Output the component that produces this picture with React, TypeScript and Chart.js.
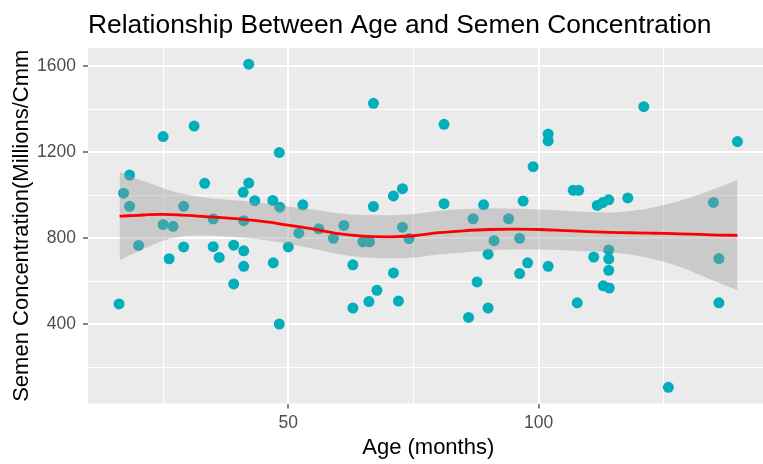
import React, { useEffect, useRef } from 'react';
import { Chart, registerables } from 'chart.js';

Chart.register(...registerables);

// Scatter data: age (months) and semen concentration (millions/cmm)
const ageMonths = [
  16.2, 17.1, 18.3, 18.3, 20.1, 25.0, 25.0, 27.0, 26.2, 29.1,
  29.1, 31.2, 33.3, 35.0, 35.0, 36.2, 39.1, 39.1, 41.1, 41.1,
  41.1, 41.0, 42.1, 42.1, 43.3, 46.9, 48.3, 48.2, 47.0, 48.2,
  50.0, 52.1, 52.9, 56.1, 59.0, 61.1, 62.9, 62.9, 64.9, 66.1,
  66.2, 67.0, 67.0, 67.7, 71.0, 72.8, 72.8, 74.1, 71.0, 72.0,
  81.1, 81.1, 86.9, 89.0, 89.9, 91.1, 87.7, 89.9, 86.0, 94.0,
  96.2, 96.9, 98.9, 97.8, 96.2, 101.9, 101.9, 101.9, 106.9, 108.0,
  107.7, 111.0, 111.7, 112.8, 114.0, 114.0, 114.0, 114.0, 112.9, 114.1,
  117.8, 121.0, 125.9, 134.9, 136.0, 136.0, 139.7,
];
const concentration = [
  494, 1009, 1093, 948, 766, 1272, 863, 855, 704, 948,
  759, 1321, 1055, 889, 760, 710, 767, 587, 741, 669,
  881, 1013, 1056, 1609, 974, 975, 944, 1198, 685, 400,
  759, 823, 955, 843, 799, 859, 676, 475, 783, 505,
  783, 1427, 947, 557, 996, 1030, 851, 798, 638, 507,
  1329, 960, 890, 955, 725, 788, 596, 475, 431, 890,
  799, 972, 1132, 685, 635, 669, 1284, 1252, 1022, 1022,
  499, 712, 952, 965, 978, 745, 703, 650, 578, 568,
  987, 1411, 106, 966, 705, 499, 1249,
];

// Loess smooth and its confidence band
const smoothAge = [
  16.3, 18, 20, 22, 25, 28, 32, 36, 41, 46, 50, 55, 60, 65, 70, 75,
  80, 85, 90, 95, 100, 105, 110, 114, 118, 122, 125, 128, 132, 136, 139.7,
];
const smoothFit = [
  902, 904, 906, 909, 910, 908, 902, 896, 887, 874, 860, 842, 821, 809, 806, 811,
  825, 834, 840, 842, 840, 835, 830, 827, 825, 823, 822, 820, 817, 814, 813,
];
const bandUpper = [
  1107, 1092, 1074, 1059, 1032, 1011, 992, 982, 972, 959, 947, 933, 916, 907, 906, 912,
  926, 935, 938, 937, 933, 927, 921, 919, 925, 938, 954, 972, 1003, 1036, 1070,
];
const bandLower = [
  697, 716, 738, 759, 788, 805, 812, 810, 802, 789, 773, 751, 726, 711, 706, 710,
  724, 733, 742, 747, 747, 743, 739, 735, 725, 708, 690, 668, 631, 592, 558,
];

// Axis ticks (ggplot major + minor grid)
const xTicks = [25, 50, 75, 100, 125];
const xMajorTicks = [50, 100];
const yTicks = [200, 400, 600, 800, 1000, 1200, 1400, 1600];
const yMajorTicks = [400, 800, 1200, 1600];

const X_MIN = 10.0;
const X_MAX = 145.9;
const Y_MIN = 30.8;
const Y_MAX = 1684.2;

const FONT = "'Liberation Sans', Arial, sans-serif";

const panelBackground = {
  id: 'panelBackground',
  beforeDraw(chart: any) {
    const { ctx, chartArea } = chart;
    if (!chartArea) return;
    ctx.save();
    ctx.fillStyle = '#EBEBEB';
    ctx.fillRect(chartArea.left, chartArea.top, chartArea.right - chartArea.left, chartArea.bottom - chartArea.top);
    ctx.restore();
  },
};

export default function App() {
  const canvasRef = useRef<HTMLCanvasElement | null>(null);

  useEffect(() => {
    document.body.style.margin = '0';
    const canvas = canvasRef.current;
    if (!canvas) return;

    const points = ageMonths.map((x, i) => ({ x, y: concentration[i] }));
    const fitPts = smoothAge.map((x, i) => ({ x, y: smoothFit[i] }));
    const upperPts = smoothAge.map((x, i) => ({ x, y: bandUpper[i] }));
    const lowerPts = smoothAge.map((x, i) => ({ x, y: bandLower[i] }));

    const chart = new Chart(canvas, {
      type: 'scatter',
      data: {
        datasets: [
          {
            type: 'scatter',
            data: points,
            backgroundColor: '#00AFBB',
            borderWidth: 0,
            pointRadius: 5.5,
            pointHoverRadius: 5.5,
            order: 3,
          } as any,
          {
            type: 'line',
            data: upperPts,
            borderWidth: 0,
            borderColor: 'rgba(0,0,0,0)',
            pointRadius: 0,
            fill: '+1',
            backgroundColor: 'rgba(153,153,153,0.4)',
            cubicInterpolationMode: 'monotone',
            order: 2,
          } as any,
          {
            type: 'line',
            data: lowerPts,
            borderWidth: 0,
            borderColor: 'rgba(0,0,0,0)',
            pointRadius: 0,
            fill: false,
            cubicInterpolationMode: 'monotone',
            order: 2,
          } as any,
          {
            type: 'line',
            data: fitPts,
            borderColor: '#FF0000',
            borderWidth: 2.8,
            pointRadius: 0,
            fill: false,
            cubicInterpolationMode: 'monotone',
            order: 1,
          } as any,
        ],
      },
      options: {
        responsive: false,
        maintainAspectRatio: false,
        animation: false,
        devicePixelRatio: 1,
        layout: { padding: 0 },
        plugins: {
          legend: { display: false },
          tooltip: { enabled: false },
          title: {
            display: true,
            text: 'Relationship Between Age and Semen Concentration',
            align: 'start',
            fullSize: false,
            color: '#000000',
            font: { family: FONT, size: 26.4, weight: 'normal' },
            padding: { top: 9.5, bottom: 6.8 },
          },
        },
        scales: {
          x: {
            type: 'linear',
            min: X_MIN,
            max: X_MAX,
            afterBuildTicks: (axis: any) => {
              axis.ticks = xTicks.map((v) => ({ value: v }));
            },
            afterFit: (axis: any) => {
              axis.height = 60.5;
            },
            border: { display: false },
            grid: {
              color: '#FFFFFF',
              lineWidth: (ctx: any) => (xMajorTicks.includes(ctx.tick?.value) ? 2 : 1),
              tickColor: (ctx: any) => (xMajorTicks.includes(ctx.tick?.value) ? '#333333' : 'rgba(0,0,0,0)'),
              tickLength: 5,
              tickWidth: 1.2,
            },
            ticks: {
              autoSkip: false,
              maxRotation: 0,
              padding: 4,
              color: '#4D4D4D',
              font: { family: FONT, size: 17.5 },
              callback: (v: any) => (xMajorTicks.includes(Number(v)) ? String(v) : ''),
            },
            title: {
              display: true,
              text: 'Age (months)',
              color: '#000000',
              font: { family: FONT, size: 22 },
              padding: { top: 0, bottom: 3 },
            },
          },
          y: {
            type: 'linear',
            min: Y_MIN,
            max: Y_MAX,
            afterBuildTicks: (axis: any) => {
              axis.ticks = yTicks.map((v) => ({ value: v }));
            },
            afterFit: (axis: any) => {
              axis.width = 88;
            },
            border: { display: false },
            grid: {
              color: '#FFFFFF',
              lineWidth: (ctx: any) => (yMajorTicks.includes(ctx.tick?.value) ? 2 : 1),
              tickColor: (ctx: any) => (yMajorTicks.includes(ctx.tick?.value) ? '#333333' : 'rgba(0,0,0,0)'),
              tickLength: 5,
              tickWidth: 1.2,
            },
            ticks: {
              autoSkip: false,
              padding: 7,
              color: '#4D4D4D',
              font: { family: FONT, size: 17.5 },
              callback: (v: any) => (yMajorTicks.includes(Number(v)) ? String(v) : ''),
            },
            title: {
              display: true,
              text: 'Semen Concentration(Millions/Cmm',
              color: '#000000',
              font: { family: FONT, size: 22 },
              padding: { top: 8.3, bottom: 0 },
            },
          },
        },
      },
      plugins: [panelBackground],
    });

    return () => {
      chart.destroy();
    };
  }, []);

  return (
    <div style={{ width: 763, height: 464, overflow: 'hidden', position: 'relative', background: '#FFFFFF' }}>
      <canvas ref={canvasRef} width={774} height={464} style={{ display: 'block', width: 774, height: 464 }} />
    </div>
  );
}
